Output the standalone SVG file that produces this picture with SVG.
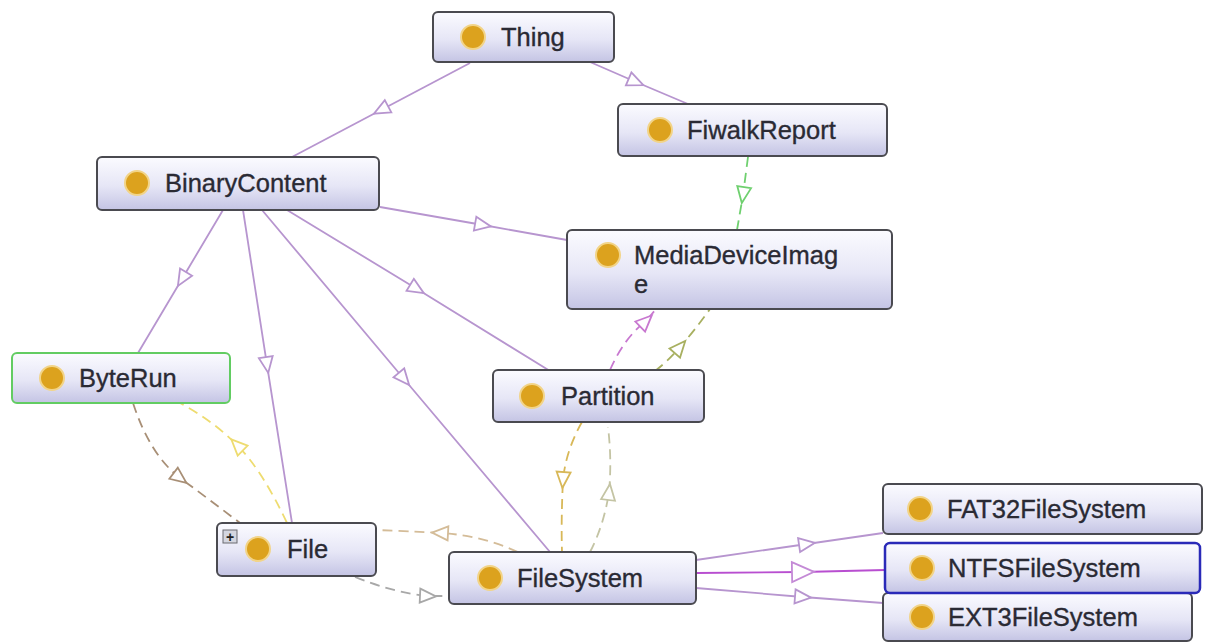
<svg xmlns="http://www.w3.org/2000/svg" width="1215" height="643" viewBox="0 0 1215 643">
<style>
.box{fill:url(#g);stroke:#4a4a50;stroke-width:2}
.dot{fill:#dca21e;stroke:#f2d488;stroke-width:2}
.lbl{font-family:"Liberation Sans",Arial,sans-serif;font-size:25.5px;fill:#2a2a34;stroke:#2a2a34;stroke-width:0.35}
.c{fill:none;stroke-width:1.8}
.solid{stroke:#b795cf;marker-mid:url(#mp)}
.dash{stroke-dasharray:10 6}
</style>
<defs>
<linearGradient id="g" x1="0" y1="0" x2="0" y2="1">
<stop offset="0" stop-color="#fbfbff"/>
<stop offset="0.55" stop-color="#e6e6f6"/>
<stop offset="1" stop-color="#c4c4e4"/>
</linearGradient>
<marker id="mp" viewBox="-12 -12 24 24" markerWidth="24" markerHeight="24" markerUnits="userSpaceOnUse" orient="auto"><path d="M-8,-7 L8,0 L-8,7 Z" fill="#fff" stroke="#b795cf" stroke-width="1.8"/></marker>
<marker id="mbig" viewBox="-14 -12 28 24" markerWidth="28" markerHeight="24" markerUnits="userSpaceOnUse" orient="auto"><path d="M-11,-10 L11,0 L-11,10 Z" fill="#fff" stroke="#c48ad6" stroke-width="1.8"/></marker>
<marker id="mg" viewBox="-12 -12 24 24" markerWidth="24" markerHeight="24" markerUnits="userSpaceOnUse" orient="auto"><path d="M-8,-7 L8,0 L-8,7 Z" fill="#fff" stroke="#6fd06f" stroke-width="1.8"/></marker>
<marker id="mm" viewBox="-12 -12 24 24" markerWidth="24" markerHeight="24" markerUnits="userSpaceOnUse" orient="auto"><path d="M-8,-7 L8,0 L-8,7 Z" fill="#fff" stroke="#c878d0" stroke-width="1.8"/></marker>
<marker id="mo" viewBox="-12 -12 24 24" markerWidth="24" markerHeight="24" markerUnits="userSpaceOnUse" orient="auto"><path d="M-8,-7 L8,0 L-8,7 Z" fill="#fff" stroke="#a8b060" stroke-width="1.8"/></marker>
<marker id="mt" viewBox="-12 -12 24 24" markerWidth="24" markerHeight="24" markerUnits="userSpaceOnUse" orient="auto"><path d="M-8,-7 L8,0 L-8,7 Z" fill="#fff" stroke="#d8b858" stroke-width="1.8"/></marker>
<marker id="ml" viewBox="-12 -12 24 24" markerWidth="24" markerHeight="24" markerUnits="userSpaceOnUse" orient="auto"><path d="M-8,-7 L8,0 L-8,7 Z" fill="#fff" stroke="#c4c4a4" stroke-width="1.8"/></marker>
<marker id="mb" viewBox="-12 -12 24 24" markerWidth="24" markerHeight="24" markerUnits="userSpaceOnUse" orient="auto"><path d="M-8,-7 L8,0 L-8,7 Z" fill="#fff" stroke="#a88f76" stroke-width="1.8"/></marker>
<marker id="my" viewBox="-12 -12 24 24" markerWidth="24" markerHeight="24" markerUnits="userSpaceOnUse" orient="auto"><path d="M-8,-7 L8,0 L-8,7 Z" fill="#fff" stroke="#eedc70" stroke-width="1.8"/></marker>
<marker id="mf" viewBox="-12 -12 24 24" markerWidth="24" markerHeight="24" markerUnits="userSpaceOnUse" orient="auto"><path d="M-8,-7 L8,0 L-8,7 Z" fill="#fff" stroke="#d4bc98" stroke-width="1.8"/></marker>
<marker id="mgr" viewBox="-12 -12 24 24" markerWidth="24" markerHeight="24" markerUnits="userSpaceOnUse" orient="auto"><path d="M-8,-7 L8,0 L-8,7 Z" fill="#fff" stroke="#a8a8a8" stroke-width="1.8"/></marker>
</defs>
<rect width="1215" height="643" fill="#fff"/>
<g id="connectors">
<path class="c solid" d="M470,63 L381,110 L292,157"/>
<path class="c solid" d="M590,62 L636,82 L688,104"/>
<path class="c solid" d="M223,210 L182,279 L138,353"/>
<path class="c solid" d="M243,210 L267,365 L292,523"/>
<path class="c solid" d="M262,210 L404,379 L550,552"/>
<path class="c solid" d="M287,210 L417,289 L550,371"/>
<path class="c solid" d="M380,207 L483,225 L567,240"/>
<path class="c solid" d="M696,560 L807,544 L883,533"/>
<path class="c solid" d="M696,588 L803,597 L883,603"/>
<path class="c" d="M696,573 L803,572 L885,570" stroke="#b84ed0" stroke-width="4" marker-mid="url(#mbig)"/>
<path class="c dash" d="M748,157 L743,195 L737,230" stroke="#6fd06f" marker-mid="url(#mg)"/>
<path class="c dash" d="M610,370 Q624,338 646,321 L656,309" stroke="#c878d0" marker-mid="url(#mm)"/>
<path class="c dash" d="M655,371 Q668,361 680,347 Q695,330 710,309" stroke="#a8b060" marker-mid="url(#mo)"/>
<path class="c dash" d="M582,422 Q566,450 563,480 Q561,520 562,552" stroke="#d8b858" marker-mid="url(#mt)"/>
<path class="c dash" d="M590,552 Q604,525 609,492 Q612,460 608,427" stroke="#c4c4a4" marker-mid="url(#ml)"/>
<path class="c dash" d="M133,403 Q150,455 180,478 Q210,500 240,523" stroke="#a88f76" marker-mid="url(#mb)"/>
<path class="c dash" d="M287,523 Q262,470 237,445 Q212,420 180,403" stroke="#eedc70" marker-mid="url(#my)"/>
<path class="c dash" d="M518,552 Q480,535 440,533 Q405,531 376,530" stroke="#d4bc98" marker-mid="url(#mf)"/>
<path class="c dash" d="M355,577 Q395,593 428,596 L449,596" stroke="#a8a8a8" marker-mid="url(#mgr)"/>
</g>
<g id="node-thing"><rect class="box" x="433" y="12" width="181" height="50" rx="5"/><circle class="dot" cx="473" cy="37" r="12"/><text class="lbl" x="501" y="46">Thing</text></g>
<g id="node-fiwalkreport"><rect class="box" x="618" y="104" width="269" height="52" rx="5"/><circle class="dot" cx="660" cy="130" r="12"/><text class="lbl" x="687" y="139">FiwalkReport</text></g>
<g id="node-binarycontent"><rect class="box" x="97" y="157" width="282" height="53" rx="5"/><circle class="dot" cx="137" cy="183" r="12"/><text class="lbl" x="165" y="192">BinaryContent</text></g>
<g id="node-mediadeviceimage"><rect class="box" x="567" y="230" width="325" height="79" rx="5"/><circle class="dot" cx="608" cy="255" r="12"/><text class="lbl" x="634" y="264">MediaDeviceImag</text><text class="lbl" x="634" y="293">e</text></g>
<g id="node-partition"><rect class="box" x="493" y="370" width="211" height="52" rx="5"/><circle class="dot" cx="532" cy="396" r="12"/><text class="lbl" x="561" y="405">Partition</text></g>
<g id="node-byterun"><rect class="box" x="12" y="353" width="218" height="50" rx="5" style="stroke:#62cc62"/><circle class="dot" cx="52" cy="378" r="12"/><text class="lbl" x="79" y="387">ByteRun</text></g>
<g id="node-file"><rect class="box" x="217" y="523" width="159" height="53" rx="5"/><rect x="223" y="530" width="14" height="13" fill="#d4d6e0" stroke="#6a6a70" stroke-width="1"/><text x="230" y="542" text-anchor="middle" font-family="Liberation Sans,Arial,sans-serif" font-size="14" font-weight="bold" fill="#222">+</text><circle class="dot" cx="258" cy="549" r="12"/><text class="lbl" x="287" y="558">File</text></g>
<g id="node-filesystem"><rect class="box" x="449" y="552" width="247" height="52" rx="5"/><circle class="dot" cx="490" cy="578" r="12"/><text class="lbl" x="517" y="587">FileSystem</text></g>
<g id="node-fat32"><rect class="box" x="883" y="484" width="319" height="50" rx="5"/><circle class="dot" cx="920" cy="509" r="12"/><text class="lbl" x="947" y="518">FAT32FileSystem</text></g>
<g id="node-ext3"><rect class="box" x="883" y="593" width="309" height="48" rx="5"/><circle class="dot" cx="922" cy="617" r="12"/><text class="lbl" x="948" y="626">EXT3FileSystem</text></g>
<g id="node-ntfs"><rect class="box" x="885" y="543" width="315" height="50" rx="5" style="stroke:#2a2ab8;stroke-width:2.5"/><circle class="dot" cx="922" cy="568" r="12"/><text class="lbl" x="948" y="577">NTFSFileSystem</text></g>
</svg>
